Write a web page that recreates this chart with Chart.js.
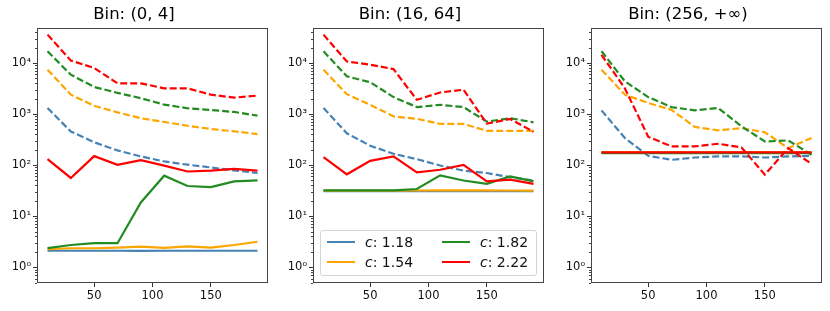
<!DOCTYPE html>
<html>
<head>
<meta charset="utf-8">
<script src="https://cdn.jsdelivr.net/npm/chart.js@4.4.0/dist/chart.umd.min.js"></script>
<style>
  body { margin: 0; background: #fff; }
  #wrap { position: relative; width: 830px; height: 311px; font-family: "DejaVu Sans", sans-serif; }
  .panel { position: absolute; top: 0; }
  #legend {
    position: absolute; left: 320px; top: 230px; width: 209px; height: 43px;
    padding: 1px 0 0 6px;
    border: 1px solid #d4d4d4; border-radius: 3px; background: rgba(255,255,255,0.8);
    display: grid; grid-template-rows: 20px 20px; grid-template-columns: 115px 94px;
    grid-auto-flow: column; font-size: 14px; color: #111;
  }
  .item { display: flex; align-items: center; }
  .swatch { width: 28px; height: 2px; margin-right: 10px; }
</style>
</head>
<body>
<div id="wrap">
  <div class="panel" id="p0"><canvas id="c0" width="272" height="311"></canvas></div>
  <div class="panel" id="p1"><canvas id="c1" width="272" height="311"></canvas></div>
  <div class="panel" id="p2"><canvas id="c2" width="272" height="311"></canvas></div>
  <div id="legend"></div>
</div>
<script>
// data
const BIN_TITLES = ['Bin: (0, 4]', 'Bin: (16, 64]', 'Bin: (256, +\u221e)'];
const X_VALUES = [10, 30, 50, 70, 90, 110, 130, 150, 170, 190];
const C_VALUES = ['1.18', '1.54', '1.82', '2.22'];
const COLORS = ['#4682b4', '#ffa500', '#228b22', '#ff0000'];
const Y_TICKS = [1, 10, 100, 1000, 10000];
const X_TICKS = [50, 100, 150];

// one row per c value (same order as C_VALUES)
const BIN0_SOLID = [
  [2.1, 2.1, 2.1, 2.1, 2.08, 2.1, 2.1, 2.1, 2.1, 2.1],
  [2.25, 2.35, 2.35, 2.42, 2.52, 2.38, 2.55, 2.42, 2.72, 3.15],
  [2.36, 2.72, 2.95, 2.95, 18.5, 62, 39, 37, 48, 50],
  [131, 56, 150, 101, 125, 98, 75, 78, 84, 78]
];
const BIN0_DASHED = [
  [1320, 455, 280, 194, 148, 118, 102, 90, 79, 70],
  [7400, 2400, 1450, 1080, 830, 700, 590, 510, 460, 405],
  [17000, 5900, 3400, 2600, 2050, 1530, 1300, 1200, 1100, 930],
  [36000, 11200, 8000, 4000, 4000, 3200, 3200, 2400, 2100, 2300]
];
const BIN1_SOLID = [
  [31, 31, 31, 31, 31, 31, 31, 31, 31, 31],
  [31.5, 31.5, 31.5, 31.5, 31.8, 32, 32, 32, 31.8, 31.5],
  [32, 32, 32, 32, 34, 63, 50, 43, 60, 48],
  [144, 66, 121, 148, 72, 81, 101, 48, 52, 43]
];
const BIN1_DASHED = [
  [1320, 420, 240, 167, 131, 98, 78, 70, 58, 50],
  [7400, 2450, 1520, 900, 810, 640, 640, 470, 470, 470],
  [17000, 5500, 4200, 2150, 1370, 1520, 1370, 710, 830, 690],
  [36000, 10700, 9300, 7600, 1900, 2650, 3000, 650, 800, 450]
];
const BIN2_SOLID = [
  [175, 175, 175, 175, 175, 175, 175, 175, 175, 175],
  [177, 177, 177, 177, 177, 177, 177, 177, 177, 177],
  [172, 172, 172, 172, 172, 172, 172, 172, 172, 172],
  [178, 178, 178, 178, 178, 178, 178, 178, 178, 178]
];
const BIN2_DASHED = [
  [1180, 340, 152, 127, 141, 148, 148, 141, 148, 152],
  [7400, 2400, 1650, 1210, 560, 480, 530, 440, 215, 340],
  [17000, 4400, 2150, 1370, 1180, 1320, 575, 290, 305, 160],
  [14500, 3200, 360, 232, 232, 262, 222, 65, 215, 106]
];

const PANELS = [
  { solid: BIN0_SOLID, dashed: BIN0_DASHED },
  { solid: BIN1_SOLID, dashed: BIN1_DASHED },
  { solid: BIN2_SOLID, dashed: BIN2_DASHED }
];
const PLOT_LEFT = [37, 313, 591];
const FONT = '"DejaVu Sans", sans-serif';
const SUP = { '0': '\u2070', '1': '\u00b9', '2': '\u00b2', '3': '\u00b3', '4': '\u2074', '-': '\u207b' };

// box around plot area + minor log ticks
const framePlugin = {
  id: 'frame',
  afterDraw(chart) {
    const { ctx, chartArea: a } = chart;
    const y = chart.scales.y;
    ctx.save();
    ctx.strokeStyle = '#444';
    ctx.lineWidth = 1;
    ctx.strokeRect(Math.round(a.left) + 0.5, Math.round(a.top) + 0.5,
      Math.round(a.width) - 1, Math.round(a.height) - 1);
    ctx.beginPath();
    for (let k = -1; k <= 4; k++) {
      for (let m = 2; m <= 9; m++) {
        const v = m * Math.pow(10, k);
        if (v < y.min || v > y.max) continue;
        const py = Math.round(y.getPixelForValue(v)) + 0.5;
        ctx.moveTo(a.left - 2, py);
        ctx.lineTo(a.left, py);
      }
    }
    ctx.stroke();
    ctx.restore();
  }
};

function makeDatasets(panel) {
  const sets = [];
  C_VALUES.forEach(function(c, i) {
    sets.push({
      label: 'c: ' + c,
      data: X_VALUES.map((x, j) => ({ x: x, y: panel.solid[i][j] })),
      borderColor: COLORS[i],
      borderWidth: 2.2,
      order: 10 - 2 * i
    });
    sets.push({
      label: 'c: ' + c + ' dashed',
      data: X_VALUES.map((x, j) => ({ x: x, y: panel.dashed[i][j] })),
      borderColor: COLORS[i],
      borderWidth: 2.2,
      borderDash: [7, 3],
      order: 9 - 2 * i
    });
  });
  return sets;
}

PANELS.forEach(function(panel, p) {
  document.getElementById('p' + p).style.left = (PLOT_LEFT[p] - 37) + 'px';
  new Chart(document.getElementById('c' + p), {
    type: 'line',
    data: { datasets: makeDatasets(panel) },
    options: {
      responsive: false,
      animation: false,
      layout: { padding: { right: 4, left: 0 } },
      elements: { point: { radius: 0 }, line: { tension: 0, borderCapStyle: 'butt' } },
      plugins: {
        legend: { display: false },
        tooltip: { enabled: false },
        title: {
          display: true,
          text: BIN_TITLES[p],
          color: '#000',
          font: { family: FONT, size: 16.5, weight: 'normal' },
          padding: { top: 5, bottom: 3 }
        }
      },
      scales: {
        x: {
          type: 'linear',
          min: 1,
          max: 199,
          afterFit: s => { s.height = 28; },
          afterBuildTicks: s => { s.ticks = X_TICKS.map(v => ({ value: v })); },
          border: { display: false },
          grid: { drawOnChartArea: false, tickLength: 4, color: '#333', tickColor: '#333' },
          ticks: { color: '#111', padding: 2, font: { family: FONT, size: 11.5 }, maxRotation: 0 }
        },
        y: {
          type: 'logarithmic',
          min: 0.49,
          max: 49000,
          afterFit: s => { s.width = 37; },
          afterBuildTicks: s => { s.ticks = Y_TICKS.map(v => ({ value: v, major: true })); },
          border: { display: false },
          grid: { drawOnChartArea: false, tickLength: 4, color: '#333', tickColor: '#333' },
          ticks: {
            color: '#111',
            padding: 2,
            font: { family: FONT, size: 11.5 },
            callback: function(v) {
              const e = String(Math.round(Math.log10(v)));
              return '10' + e.split('').map(ch => SUP[ch]).join('');
            }
          }
        }
      }
    },
    plugins: [framePlugin]
  });
});

// legend (two columns, column-major like the reference)
const legendBox = document.getElementById('legend');
C_VALUES.forEach(function(c, i) {
  const item = document.createElement('div');
  item.className = 'item';
  item.innerHTML = '<span class="swatch" style="background:' + COLORS[i] + '"></span><span><i>c</i>: ' + c + '</span>';
  legendBox.appendChild(item);
});
</script>
</body>
</html>
